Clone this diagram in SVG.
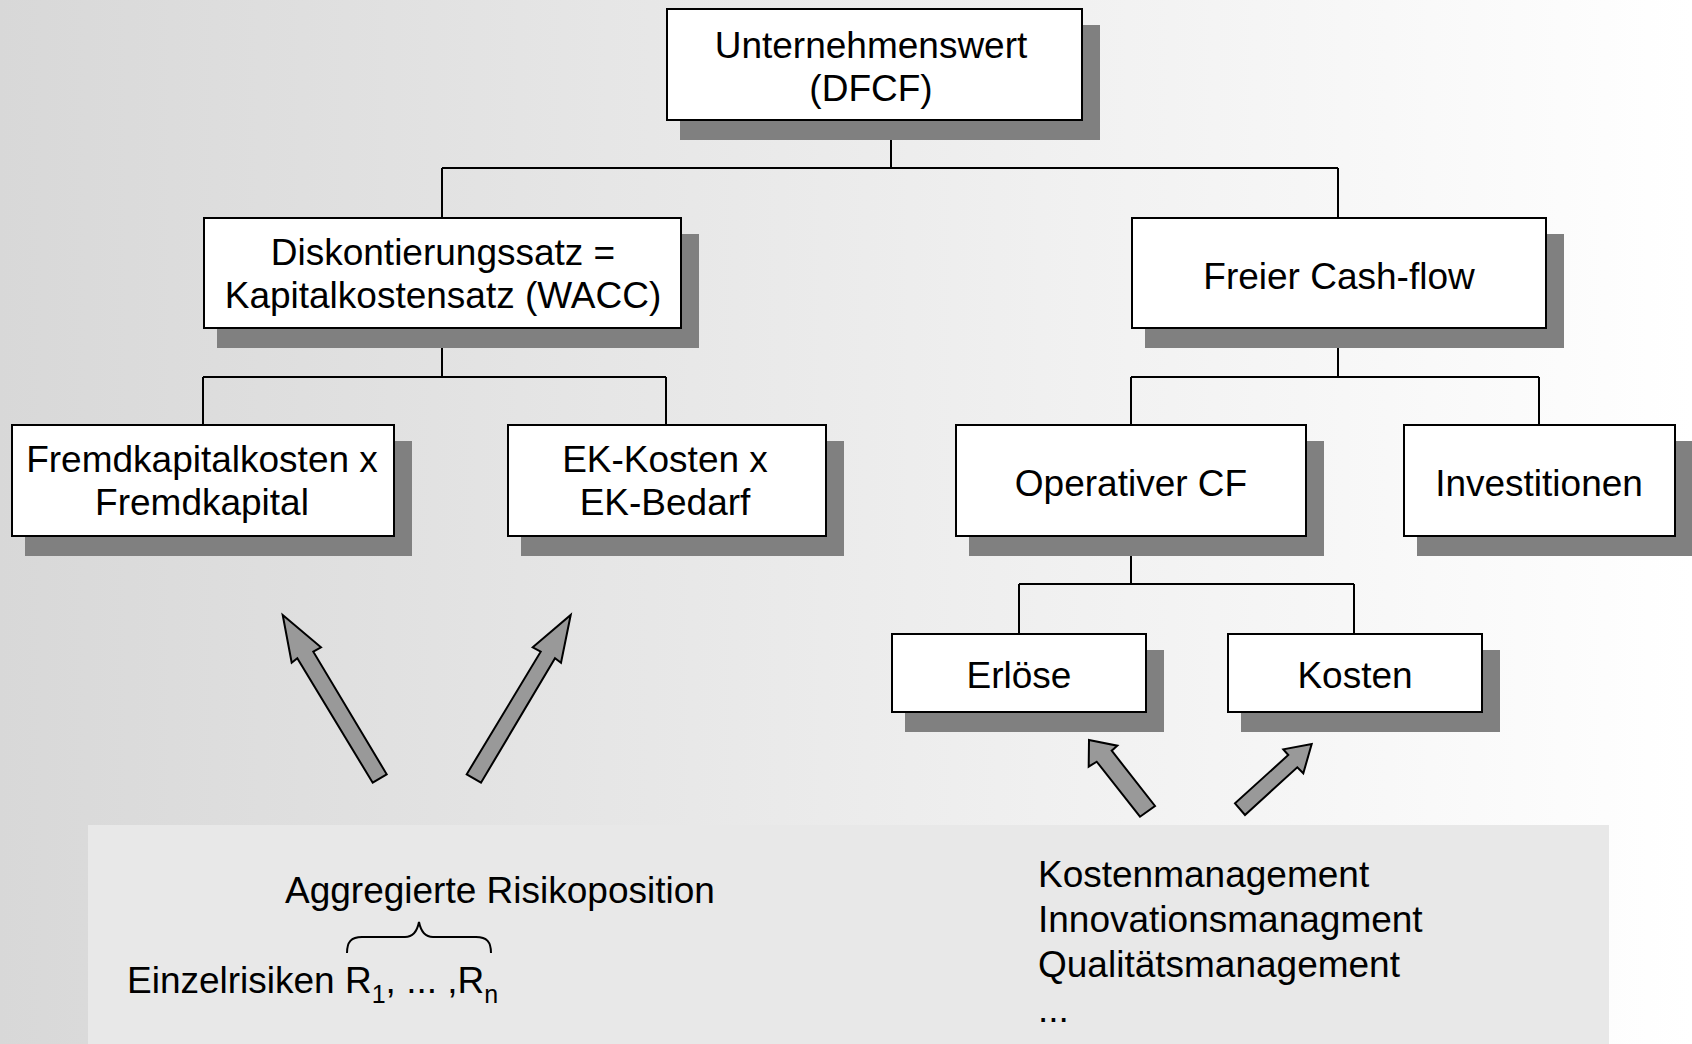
<svg xmlns="http://www.w3.org/2000/svg" width="1692" height="1044" viewBox="0 0 1692 1044">
  <defs>
    <linearGradient id="bg" x1="0" y1="0" x2="1" y2="0">
      <stop offset="0" stop-color="#d8d8d8"/>
      <stop offset="1" stop-color="#ffffff"/>
    </linearGradient>
  </defs>
  <style>
    text { font-family: "Liberation Sans", Arial, sans-serif; font-size: 37px; fill: #000; }
    .c { text-anchor: middle; }
    .box { fill: #ffffff; stroke: #000; stroke-width: 2; }
    .shadow { fill: #808080; }
    .conn { fill: none; stroke: #000; stroke-width: 2; }
    .arrow { fill: #999999; stroke: #000; stroke-width: 2; stroke-linejoin: miter; }
    .sub { font-size: 25px; }
  </style>

  <!-- background -->
  <rect x="0" y="0" width="1692" height="1044" fill="url(#bg)"/>
  <!-- lower panel -->
  <rect x="88" y="825" width="1521" height="219" fill="#e8e8e8"/>

  <!-- tree connectors -->
  <g id="connectors" class="conn">
    <path d="M891 121 V168 M442 168 H1338 M442 168 V217 M1338 168 V217"/>
    <path d="M442 329 V377 M203 377 H666 M203 377 V424 M666 377 V424"/>
    <path d="M1338 329 V377 M1131 377 H1539 M1131 377 V424 M1539 377 V424"/>
    <path d="M1131 537 V584 M1019 584 H1354 M1019 584 V633 M1354 584 V633"/>
  </g>

  <!-- nodes -->
  <g id="unternehmenswert">
    <rect class="shadow" x="680" y="25" width="420" height="115"/>
    <rect class="box" x="667" y="9" width="415" height="111"/>
    <text class="c" x="871" y="57.5">Unternehmenswert</text>
    <text class="c" x="871" y="100.5">(DFCF)</text>
  </g>

  <g id="diskontierungssatz">
    <rect class="shadow" x="217" y="234" width="482" height="114"/>
    <rect class="box" x="204" y="218" width="477" height="110"/>
    <text class="c" x="443" y="265">Diskontierungssatz =</text>
    <text class="c" x="443" y="308">Kapitalkostensatz (WACC)</text>
  </g>

  <g id="freier-cashflow">
    <rect class="shadow" x="1145" y="234" width="419" height="114"/>
    <rect class="box" x="1132" y="218" width="414" height="110"/>
    <text class="c" x="1339" y="288.5">Freier Cash-flow</text>
  </g>

  <g id="fremdkapitalkosten">
    <rect class="shadow" x="25" y="441" width="387" height="115"/>
    <rect class="box" x="12" y="425" width="382" height="111"/>
    <text class="c" x="202" y="472">Fremdkapitalkosten x</text>
    <text class="c" x="202" y="515">Fremdkapital</text>
  </g>

  <g id="ek-kosten">
    <rect class="shadow" x="521" y="441" width="323" height="115"/>
    <rect class="box" x="508" y="425" width="318" height="111"/>
    <text class="c" x="665" y="472">EK-Kosten x</text>
    <text class="c" x="665" y="515">EK-Bedarf</text>
  </g>

  <g id="operativer-cf">
    <rect class="shadow" x="969" y="441" width="355" height="115"/>
    <rect class="box" x="956" y="425" width="350" height="111"/>
    <text class="c" x="1131" y="495.7">Operativer CF</text>
  </g>

  <g id="investitionen">
    <rect class="shadow" x="1417" y="441" width="276" height="115"/>
    <rect class="box" x="1404" y="425" width="271" height="111"/>
    <text class="c" x="1539" y="495.7">Investitionen</text>
  </g>

  <g id="erloese">
    <rect class="shadow" x="905" y="650" width="259" height="82"/>
    <rect class="box" x="892" y="634" width="254" height="78"/>
    <text class="c" x="1019" y="687.7">Erlöse</text>
  </g>

  <g id="kosten">
    <rect class="shadow" x="1241" y="650" width="259" height="82"/>
    <rect class="box" x="1228" y="634" width="254" height="78"/>
    <text class="c" x="1355" y="687.7">Kosten</text>
  </g>

  <!-- influence arrows -->
  <g id="arrows">
    <polygon class="arrow" points="282.7,615 321,647.3 313.3,651.7 386.7,774.3 372.7,782.7 297.3,658.3 291.7,662.7"/>
    <polygon class="arrow" points="570.7,615 561,662.7 555,658.3 481,782.7 466.7,774.3 540.7,651.7 532.7,647.3"/>
    <polygon class="arrow" points="1089,740 1117.3,745.7 1111.7,750.7 1155,806 1140,816.7 1096.7,761.7 1088.7,766.7"/>
    <polygon class="arrow" points="1311.7,744 1303.3,773.3 1297.3,767.3 1245,815 1235,803.3 1288.3,755 1283.3,749.3"/>
  </g>

  <!-- risk aggregation -->
  <g id="risiko">
    <text x="285" y="903">Aggregierte Risikoposition</text>
    <path class="conn" d="M347 953 C347 942 351 937 362 937 H405 C413 937 417 932 419 922 C421 932 425 937 433 937 H476 C487 937 491 942 491 953"/>
    <text x="127" y="993">Einzelrisiken R<tspan class="sub" dy="10">1</tspan><tspan dy="-10">, ... ,R</tspan><tspan class="sub" dy="10">n</tspan></text>
  </g>

  <!-- management levers -->
  <g id="management">
    <text x="1038" y="887">Kostenmanagement</text>
    <text x="1038" y="932">Innovationsmanagment</text>
    <text x="1038" y="977">Qualitätsmanagement</text>
    <text x="1038" y="1022">...</text>
  </g>
</svg>
